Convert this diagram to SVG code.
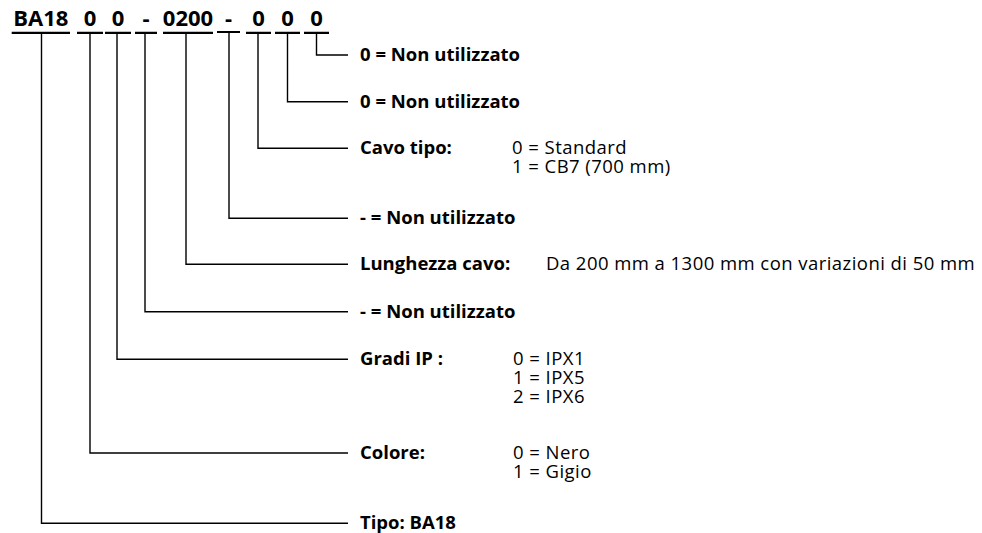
<svg xmlns="http://www.w3.org/2000/svg" width="982" height="533" viewBox="0 0 982 533">
<style>
text{font-family:"Open Sans","Noto Sans","Liberation Sans",sans-serif;fill:#000}
.h{font-size:22px;font-weight:700;text-anchor:middle}
.b{font-size:18.5px;font-weight:700}
.r{font-size:18.5px;letter-spacing:0.45px}
.ul{stroke:#000;stroke-width:2.2;fill:none}
.c{stroke:#000;stroke-width:1.4;fill:none}
</style>
<rect width="982" height="533" fill="#fff"/>
<g id="code">
<text class="h" x="40.8" y="25.5">BA18</text>
<text class="h" x="90" y="25.5">0</text>
<text class="h" x="118" y="25.5">0</text>
<text class="h" x="146" y="25.5">-</text>
<text class="h" x="188" y="25.5">0200</text>
<text class="h" x="228.5" y="25.5">-</text>
<text class="h" x="258.5" y="25.5">0</text>
<text class="h" x="287.5" y="25.5">0</text>
<text class="h" x="316.5" y="25.5">0</text>
<path class="ul" d="M11.7 32.8H70M77 32.8H103M105 32.8H131M135 32.8H157M163 32.8H213M217 32H240M246 32.8H271M275 32.8H300M304 32.8H329"/>
</g>
<g id="connectors">
<path class="c" d="M316.5 34V55H348"/>
<path class="c" d="M287.5 34V101.7H348"/>
<path class="c" d="M258 34V148.3H348"/>
<path class="c" d="M229 33V218.3H348"/>
<path class="c" d="M186 34V264.3H348"/>
<path class="c" d="M145 34V311.7H348"/>
<path class="c" d="M117 34V359.3H348"/>
<path class="c" d="M90 34V453H348"/>
<path class="c" d="M41.5 34V523.3H348"/>
</g>
<g id="n1"><text class="b" x="360" y="61">0 = Non utilizzato</text></g>
<g id="n2"><text class="b" x="360" y="107.5">0 = Non utilizzato</text></g>
<g id="n3"><text class="b" x="360" y="154">Cavo tipo:</text>
<text class="r" y="154"><tspan x="512">0 = Standard</tspan><tspan x="512" dy="19">1 = CB7 (700 mm)</tspan></text></g>
<g id="n4"><text class="b" x="360" y="224">- = Non utilizzato</text></g>
<g id="n5"><text class="b" x="360" y="270">Lunghezza cavo:</text>
<text class="r" x="546" y="270">Da 200 mm a 1300 mm con variazioni di 50 mm</text></g>
<g id="n6"><text class="b" x="360" y="317.5">- = Non utilizzato</text></g>
<g id="n7"><text class="b" x="360" y="365">Gradi IP :</text>
<text class="r" y="365"><tspan x="513">0 = IPX1</tspan><tspan x="513" dy="19">1 = IPX5</tspan><tspan x="513" dy="19">2 = IPX6</tspan></text></g>
<g id="n8"><text class="b" x="360" y="459">Colore:</text>
<text class="r" y="459"><tspan x="513">0 = Nero</tspan><tspan x="513" dy="19">1 = Gigio</tspan></text></g>
<g id="n9"><text class="b" x="360" y="529">Tipo: BA18</text></g>
</svg>
